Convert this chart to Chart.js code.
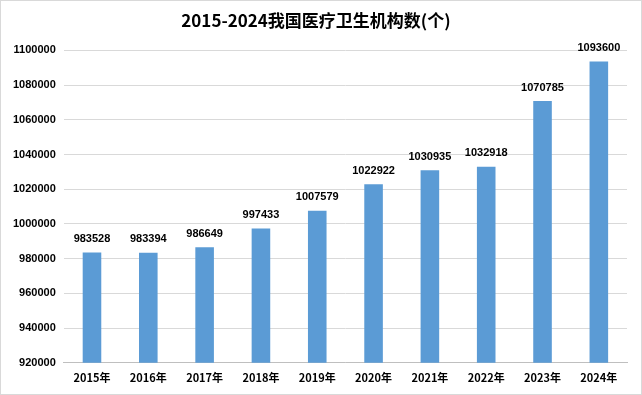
<!DOCTYPE html>
<html>
<head>
<meta charset="utf-8">
<script src="https://cdn.jsdelivr.net/npm/chart.js@4"></script>
<style>
  html, body { margin: 0; padding: 0; background: #fff; }
  #wrap { width: 640px; height: 393px; border: 1px solid #d9d9d9; position: relative; }
</style>
</head>
<body>
<div id="wrap"><canvas id="barChart" width="640" height="393"></canvas></div>
<script>
const years = ['2015年', '2016年', '2017年', '2018年', '2019年', '2020年', '2021年', '2022年', '2023年', '2024年'];
const counts = [983528, 983394, 986649, 997433, 1007579, 1022922, 1030935, 1032918, 1070785, 1093600];
const yMin = 920000;
const yMax = 1100000;
const yStep = 20000;

const fontFam = '"Liberation Sans", Arial, sans-serif';

// numbers above the bars
const valueLabels = {
    id: 'valueLabels',
    afterDatasetsDraw(chart) {
        const ctx = chart.ctx;
        ctx.save();
        ctx.font = 'bold 11px ' + fontFam;
        ctx.fillStyle = '#000';
        ctx.textAlign = 'center';
        ctx.textBaseline = 'bottom';
        chart.getDatasetMeta(0).data.forEach((bar, i) => {
            ctx.fillText(counts[i], bar.x, bar.y - 8);
        });
        ctx.restore();
    }
};

new Chart(document.getElementById('barChart'), {
    type: 'bar',
    data: {
        labels: years,
        datasets: [{
            label: '医疗卫生机构数',
            data: counts,
            backgroundColor: '#5b9bd5',
            barPercentage: 0.33,
            categoryPercentage: 1
        }]
    },
    options: {
        responsive: false,
        animation: false,
        layout: { padding: { left: 4, right: 14, top: 6, bottom: 10 } },
        plugins: {
            legend: { display: false },
            tooltip: { enabled: false },
            title: {
                display: true,
                text: '2015-2024我国医疗卫生机构数(个)',
                color: '#000',
                font: { family: '"Noto Sans CJK SC", ' + fontFam, size: 17, weight: 'bold' },
                padding: { top: 3, bottom: 20 }
            }
        },
        scales: {
            x: {
                grid: { display: false },
                border: { color: '#bfbfbf' },
                ticks: {
                    color: '#000',
                    font: { family: '"Noto Sans CJK SC", ' + fontFam, size: 11, weight: 'bold' },
                    padding: 0
                }
            },
            y: {
                min: yMin,
                max: yMax,
                grid: { color: '#d9d9d9', drawTicks: false },
                border: { display: false },
                ticks: {
                    stepSize: yStep,
                    color: '#000',
                    font: { family: fontFam, size: 11, weight: 'bold' },
                    padding: 8,
                    callback: v => String(v)
                }
            }
        }
    },
    plugins: [valueLabels]
});
</script>
</body>
</html>
